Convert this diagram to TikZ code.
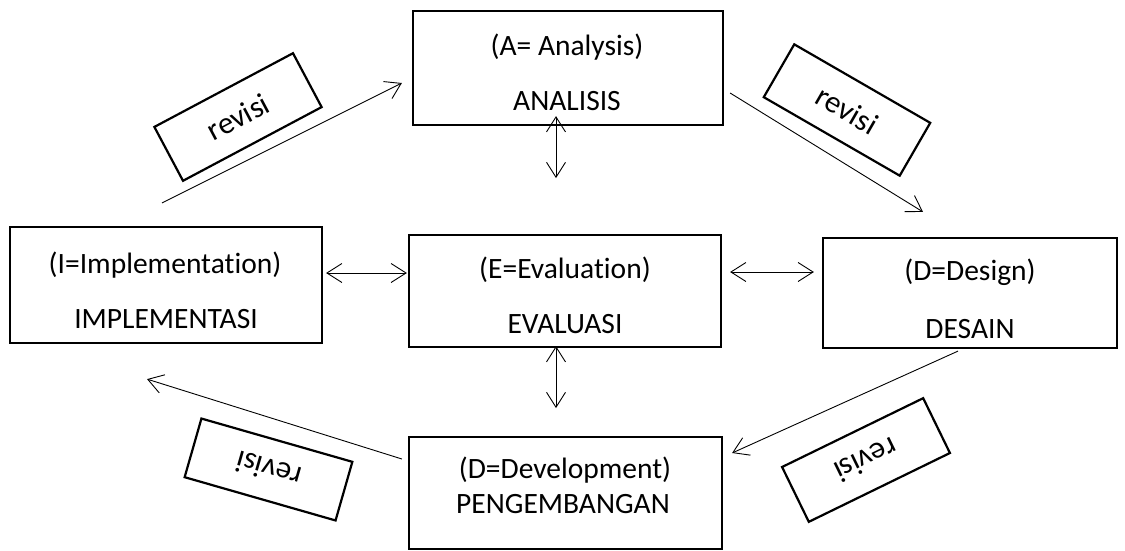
\documentclass[tikz,border=0pt]{standalone}
\usepackage{fontspec}
\setmainfont{Carlito}[Ligatures=NoCommon]
\usetikzlibrary{arrows.meta,calc}
\tikzset{
  box/.style={draw=black, line width=2.2pt, inner sep=0pt, rectangle},
  txt/.style={anchor=base, inner sep=0pt, font=\fontsize{29.5}{34}\selectfont},
  revbox/.style={draw=black, line width=2.2pt, inner sep=0pt, minimum width=157pt, minimum height=61pt, font=\fontsize{31}{36}\selectfont},
  conn/.style={line width=0.9pt, -{Straight Barb[length=15pt,width=19pt,line width=0.9pt]}},
  dconn/.style={line width=0.9pt, {Straight Barb[length=15pt,width=19pt,line width=0.9pt]}-{Straight Barb[length=15pt,width=19pt,line width=0.9pt]}}
}
\begin{document}
\begin{tikzpicture}[x=1pt,y=1pt]
\useasboundingbox (0,0) rectangle (1125,-550);
% boxes
\node[box, minimum width=310pt, minimum height=114pt] (A) at (568,-68) {};
\node[box, minimum width=312pt, minimum height=112pt] (E) at (565,-291) {};
\node[box, minimum width=312pt, minimum height=116pt] (I) at (166,-285) {};
\node[box, minimum width=294pt, minimum height=110pt] (D) at (970,-293) {};
\node[box, minimum width=313pt, minimum height=112pt] (V) at (565.5,-493) {};
% texts
\node[txt] (A1) at (567,-55) {(A= Analysis)};
\node[txt] (A2) at (567,-110) {ANALISIS};
\node[txt] (E1) at (565,-278) {(E=Evaluation)};
\node[txt] (E2) at (565,-333) {EVALUASI};
\node[txt] (I1) at (165,-273) {(I=Implementation)};
\node[txt] (I2) at (166,-328) {IMPLEMENTASI};
\node[txt] (D1) at (970,-280) {(D=Design)};
\node[txt] (D2) at (970,-338) {DESAIN};
\node[txt] (V1) at (565,-478) {(D=Development)};
\node[txt] (V2) at (563,-513) {PENGEMBANGAN};
% revisi boxes
\node[revbox, rotate=28] (R1) at (238,-117) {revisi};
\node[revbox, rotate=-30] (R2) at (847,-110) {revisi};
\node[revbox, rotate=164] (R3) at (268.5,-469.5) {revisi};
\node[revbox, rotate=206] (R4) at (866,-460) {revisi};
% revisi arrows
\draw[conn] ($(I.north)+(-4,23)$) -- ($(A.west)+(-10,-15)$);
\draw[conn] ($(A.east)+(6,-25)$) -- ($(D.north)+(-47,25)$);
\draw[conn] ($(D.south)+(-12,-2)$) -- ($(V.east)+(9,40)$);
\draw[conn] ($(V.west)+(-6,34)$) -- ($(I.south)+(-19,-35)$);
% double arrows
\draw[dconn] ($(A.south)+(-12,10)$) -- ($(A.south)+(-12,-52)$);
\draw[dconn] ($(E.south)+(-9,2)$) -- ($(E.south)+(-9,-60)$);
\draw[dconn] ($(I.east)+(3,12)$) -- ($(E.west)+(-1,18)$);
\draw[dconn] ($(E.east)+(8,19)$) -- ($(D.west)+(-8,21)$);
\end{tikzpicture}
\end{document}
